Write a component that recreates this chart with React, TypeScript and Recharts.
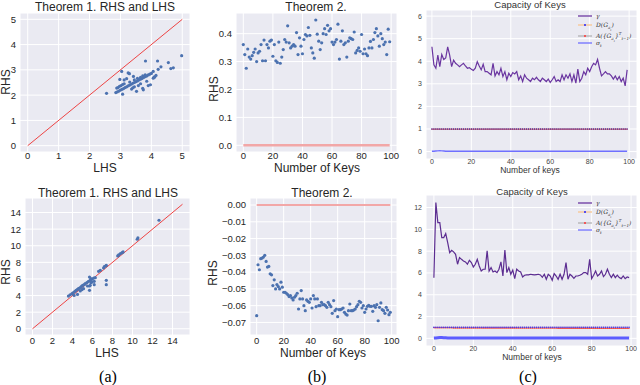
import React from 'react';
import { ComposedChart, Scatter, Line, XAxis, YAxis, CartesianGrid } from 'recharts';

const SANS = '"Liberation Sans", Arial, Helvetica, sans-serif';
const SERIF = '"Liberation Serif", "DejaVu Serif", serif';
const BG = '#EAEAF2';
const BLUE = '#4c72b0';

// ---------- Panel (a) top: Theorem 1, LHS vs RHS ----------
const a1Lhs = [2.55, 3.04, 3.20, 3.25, 2.98, 3.42, 3.81, 4.20, 4.55, 4.71, 4.63, 4.31, 4.98, 4.22, 4.06, 4.11, 4.06, 3.97, 3.90, 3.85, 3.72, 3.52, 3.36, 3.07, 2.88, 3.58, 3.65, 3.45, 3.12, 3.29, 4.09, 4.15, 3.74, 3.40,
  2.85, 2.90, 2.95, 3.00, 3.05, 3.10, 3.15, 3.20, 3.25, 3.30, 3.35, 3.40, 3.45, 3.50, 3.55, 3.60, 3.65, 3.70, 3.75, 3.80, 3.85, 3.90, 3.95, 4.00,
  2.92, 2.97, 3.02, 3.07, 3.12, 3.30, 3.45, 3.55, 3.65, 3.72, 3.80];
const a1Rhs = [2.07, 2.94, 2.65, 2.88, 2.62, 2.74, 3.35, 3.35, 3.29, 3.08, 3.05, 3.12, 3.56, 3.02, 2.94, 2.72, 2.67, 2.41, 2.38, 2.55, 2.27, 2.15, 2.24, 2.04, 2.28, 2.38, 2.45, 2.33, 2.60, 2.85, 2.71, 2.78, 2.21, 2.29,
  2.10, 2.13, 2.16, 2.20, 2.23, 2.26, 2.30, 2.33, 2.37, 2.40, 2.43, 2.47, 2.50, 2.53, 2.56, 2.60, 2.63, 2.66, 2.70, 2.73, 2.76, 2.80, 2.83, 2.86,
  2.30, 2.35, 2.38, 2.42, 2.45, 2.52, 2.60, 2.66, 2.70, 2.76, 2.80];
const a1Diag = [0, 5];

// ---------- Panel (a) bottom ----------
const a2Lhs = [3.59, 3.76, 3.93, 4.03, 4.16, 4.26, 4.36, 4.50, 4.60, 4.70, 4.83, 4.93, 5.03, 5.17, 5.27, 5.44, 5.60, 5.77, 5.94, 6.11, 6.28,
  4.16, 4.50, 4.77, 4.93, 5.10, 5.50, 5.70, 5.70, 5.84, 5.77, 6.17, 6.17, 5.94, 5.84, 5.70, 7.38, 7.38,
  6.61, 6.78, 7.11, 7.18, 7.32, 7.38, 8.52, 8.62, 8.79, 8.96, 9.06, 10.47, 10.54, 12.65];
const a2Rhs = [3.94, 4.10, 4.22, 4.30, 4.42, 4.51, 4.63, 4.75, 4.83, 4.91, 5.03, 5.15, 5.23, 5.31, 5.43, 5.55, 5.71, 5.83, 5.95, 6.11, 6.15,
  4.02, 4.14, 4.55, 4.71, 4.83, 5.15, 4.63, 5.15, 5.55, 5.23, 5.31, 5.71, 5.63, 6.03, 6.23, 5.83, 5.31,
  6.92, 7.04, 7.32, 7.48, 7.56, 7.64, 8.77, 8.89, 9.05, 9.17, 9.25, 10.78, 10.94, 13.07];
const a2Diag = [0, 15];

// ---------- Panel (b): Theorem 2 ----------
const keys = Array.from({ length: 100 }, (_, i) => i);
const b1Rhs = [0.361, 0.325, 0.276, 0.345, 0.316, 0.309, 0.321, 0.333, 0.345, 0.300,
  0.331, 0.337, 0.361, 0.303, 0.377, 0.303, 0.361, 0.349, 0.373, 0.377,
  0.319, 0.361, 0.303, 0.297, 0.370, 0.294, 0.316, 0.343, 0.379, 0.370,
  0.428, 0.367, 0.349, 0.355, 0.361, 0.355, 0.404, 0.325, 0.385, 0.355,
  0.328, 0.379, 0.397, 0.392, 0.422, 0.394, 0.349, 0.331, 0.312, 0.449,
  0.398, 0.373, 0.343, 0.367, 0.400, 0.418, 0.397, 0.430, 0.410, 0.418,
  0.370, 0.361, 0.370, 0.379, 0.434, 0.309, 0.373, 0.410, 0.361, 0.367,
  0.316, 0.373, 0.385, 0.382, 0.379, 0.406, 0.331, 0.340, 0.349, 0.337,
  0.397, 0.328, 0.345, 0.328, 0.321, 0.349, 0.372, 0.349, 0.379, 0.404,
  0.418, 0.392, 0.355, 0.400, 0.382, 0.361, 0.370, 0.325, 0.416, 0.371];
const b2Rhs = [-0.0660, -0.0356, -0.0386, -0.0320, -0.0316, -0.0310, -0.0300, -0.0336, -0.0370, -0.0366,
  -0.0410, -0.0416, -0.0480, -0.0446, -0.0500, -0.0474, -0.0486, -0.0500, -0.0460, -0.0490,
  -0.0520, -0.0520, -0.0526, -0.0534, -0.0546, -0.0540, -0.0554, -0.0566, -0.0550, -0.0540,
  -0.0526, -0.0620, -0.0560, -0.0510, -0.0560, -0.0600, -0.0630, -0.0566, -0.0574, -0.0580,
  -0.0560, -0.0614, -0.0540, -0.0560, -0.0606, -0.0560, -0.0600, -0.0600, -0.0580, -0.0594,
  -0.0594, -0.0600, -0.0610, -0.0580, -0.0594, -0.0606, -0.0646, -0.0570, -0.0630, -0.0620,
  -0.0666, -0.0624, -0.0624, -0.0620, -0.0614, -0.0640, -0.0650, -0.0656, -0.0630, -0.0590,
  -0.0630, -0.0630, -0.0626, -0.0620, -0.0606, -0.0594, -0.0574, -0.0580, -0.0614, -0.0600,
  -0.0640, -0.0620, -0.0604, -0.0598, -0.0604, -0.0604, -0.0634, -0.0600, -0.0610, -0.0594,
  -0.0690, -0.0610, -0.0584, -0.0624, -0.0630, -0.0646, -0.0610, -0.0626, -0.0654, -0.0640];
const bZeroX = [0, 99];
const bZeroY = [0, 0];

// ---------- Panel (c): Capacity of Keys ----------
const c1Gamma = [4.64, 3.84, 3.69, 4.27, 3.76, 4.30, 4.08, 4.15, 4.64, 4.27,
  3.76, 4.05, 3.91, 3.84, 3.76, 3.84, 3.91, 3.79, 3.69, 3.72,
  3.65, 3.59, 3.69, 3.98, 3.79, 3.62, 3.87, 3.54, 3.54, 3.47,
  3.40, 3.91, 3.35, 3.54, 3.40, 3.69, 3.32, 3.54, 3.18, 3.47,
  3.32, 3.50, 3.44, 3.54, 3.18, 3.35, 3.10, 3.40, 3.25, 3.18,
  3.10, 3.25, 3.18, 3.29, 3.18, 3.10, 3.25, 3.18, 3.10, 3.21,
  3.06, 3.18, 3.32, 3.10, 3.18, 3.10, 3.40, 3.18, 3.40, 3.25,
  3.44, 3.10, 3.40, 3.03, 3.65, 3.10, 3.25, 3.54, 3.40, 3.69,
  3.54, 3.76, 3.91, 3.84, 4.08, 3.69, 3.35, 3.44, 3.54, 3.44,
  3.44, 3.35, 3.21, 3.35, 3.18, 3.32, 3.10, 3.25, 2.91, 3.62];
const c1D = [1, 1, 1, 1, 1, 1, 1, 1, 1, 1, 1, 1, 1, 1, 1, 1, 1, 1, 1, 1,
  1, 1, 1, 1, 1, 1, 1, 1, 1, 1, 1, 1, 1, 1, 1, 1, 1, 1, 1, 1,
  1, 1, 1, 1, 1, 1, 1, 1, 1, 1, 1, 1, 1, 1, 1, 1, 1, 1, 1, 1,
  1, 1, 1, 1, 1, 1, 1, 1, 1, 1, 1, 1, 1, 1, 1, 1, 1, 1, 1, 1,
  1, 1, 1, 1, 1, 1, 1, 1, 1, 1, 1, 1, 1, 1, 1, 1, 1, 1, 1, 1];
const c1A = [0.99, 0.99, 0.99, 0.99, 0.99, 0.99, 0.99, 0.99, 0.99, 0.99, 0.99, 0.99, 0.99, 0.99, 0.99, 0.99, 0.99, 0.99, 0.99, 0.99,
  0.99, 0.99, 0.99, 0.99, 0.99, 0.99, 0.99, 0.99, 0.99, 0.99, 0.99, 0.99, 0.99, 0.99, 0.99, 0.99, 0.99, 0.99, 0.99, 0.99,
  0.99, 0.99, 0.99, 0.99, 0.99, 0.99, 0.99, 0.99, 0.99, 0.99, 0.99, 0.99, 0.99, 0.99, 0.99, 0.99, 0.99, 0.99, 0.99, 0.99,
  0.99, 0.99, 0.99, 0.99, 0.99, 0.99, 0.99, 0.99, 0.99, 0.99, 0.99, 0.99, 0.99, 0.99, 0.99, 0.99, 0.99, 0.99, 0.99, 0.99,
  0.99, 0.99, 0.99, 0.99, 0.99, 0.99, 0.99, 0.99, 0.99, 0.99, 0.99, 0.99, 0.99, 0.99, 0.99, 0.99, 0.99, 0.99, 0.99, 0.99];
const c1Sigma = [0.01, 0.01, 0.02, 0.03, 0.04, 0.03, 0.02, 0.01, 0.01, 0.01, 0.01, 0.01, 0.01, 0.01, 0.01, 0.01, 0.01, 0.01, 0.01, 0.01,
  0.01, 0.01, 0.01, 0.01, 0.01, 0.01, 0.01, 0.01, 0.01, 0.01, 0.01, 0.01, 0.01, 0.01, 0.01, 0.01, 0.01, 0.01, 0.01, 0.01,
  0.01, 0.01, 0.01, 0.01, 0.01, 0.01, 0.01, 0.01, 0.01, 0.01, 0.01, 0.01, 0.01, 0.01, 0.01, 0.01, 0.01, 0.01, 0.01, 0.01,
  0.01, 0.01, 0.01, 0.01, 0.01, 0.01, 0.01, 0.01, 0.01, 0.01, 0.01, 0.01, 0.01, 0.01, 0.01, 0.01, 0.01, 0.01, 0.01, 0.01,
  0.01, 0.01, 0.01, 0.01, 0.01, 0.01, 0.01, 0.01, 0.01, 0.01, 0.01, 0.01, 0.01, 0.01, 0.01, 0.01, 0.01, 0.01, 0.01, 0.01];

const c2Gamma = [5.57, 12.46, 10.62, 10.62, 9.24, 9.24, 9.61, 8.78, 7.87, 8.08,
  7.93, 7.71, 6.80, 7.41, 7.25, 7.10, 7.01, 6.80, 7.16, 6.95,
  6.55, 6.80, 7.25, 6.64, 6.18, 6.34, 6.34, 8.02, 6.18, 6.49,
  6.09, 6.18, 6.03, 6.34, 7.01, 5.72, 8.11, 6.03, 6.49, 5.88,
  6.27, 5.48, 6.34, 6.18, 6.09, 5.63, 5.79, 5.82, 5.82, 5.88,
  5.85, 5.82, 5.85, 5.88, 5.82, 5.60, 5.88, 5.42, 5.88, 5.72,
  5.33, 5.94, 5.72, 5.42, 5.88, 5.42, 5.88, 6.95, 5.42, 5.88,
  5.72, 5.51, 5.72, 5.72, 5.79, 5.88, 6.03, 6.03, 5.88, 7.25,
  5.48, 5.79, 6.18, 5.72, 5.88, 6.18, 5.66, 5.88, 6.34, 5.88,
  5.57, 5.88, 5.57, 5.79, 5.57, 5.48, 5.72, 5.48, 5.63, 5.57];
const c2D = [1.02, 1.02, 1.02, 1.02, 1.02, 1.02, 1.02, 1.02, 1.02, 1.02, 1.02, 1.02, 1.02, 1.02, 1.02, 1.02, 1.02, 1.02, 1.02, 1.02,
  1.02, 1.02, 1.02, 1.02, 1.02, 1.02, 1.02, 1.02, 1.02, 1.02, 1.02, 1.02, 1.02, 1.02, 1.02, 1.02, 1.02, 1.02, 1.02, 1.02,
  1.02, 1.02, 1.02, 1.02, 1.02, 1.02, 1.02, 1.02, 1.02, 1.02, 1.02, 1.02, 1.02, 1.02, 1.02, 1.02, 1.02, 1.02, 1.02, 1.02,
  1.02, 1.02, 1.02, 1.02, 1.02, 1.02, 1.02, 1.02, 1.02, 1.02, 1.02, 1.02, 1.02, 1.02, 1.02, 1.02, 1.02, 1.02, 1.02, 1.02,
  1.02, 1.02, 1.02, 1.02, 1.02, 1.02, 1.02, 1.02, 1.02, 1.02, 1.02, 1.02, 1.02, 1.02, 1.02, 1.02, 1.02, 1.02, 1.02, 1.02];
const c2A = [0.98, 0.98, 0.98, 0.98, 0.98, 0.98, 0.98, 0.98, 0.98, 0.98, 0.97, 0.97, 0.97, 0.97, 0.97, 0.97, 0.97, 0.97, 0.97, 0.97,
  0.97, 0.97, 0.97, 0.97, 0.97, 0.96, 0.96, 0.96, 0.96, 0.96, 0.96, 0.96, 0.96, 0.96, 0.96, 0.96, 0.96, 0.96, 0.96, 0.96,
  0.96, 0.96, 0.96, 0.95, 0.95, 0.95, 0.95, 0.95, 0.95, 0.95, 0.95, 0.95, 0.95, 0.95, 0.95, 0.95, 0.95, 0.95, 0.95, 0.95,
  0.95, 0.95, 0.95, 0.94, 0.94, 0.94, 0.94, 0.94, 0.94, 0.94, 0.94, 0.94, 0.94, 0.94, 0.94, 0.94, 0.94, 0.94, 0.94, 0.94,
  0.94, 0.94, 0.94, 0.93, 0.93, 0.93, 0.93, 0.93, 0.93, 0.93, 0.93, 0.93, 0.93, 0.93, 0.93, 0.93, 0.93, 0.93, 0.93, 0.93];
const c2Sigma = [0.03, 0.04, 0.06, 0.07, 0.07, 0.06, 0.05, 0.04, 0.04, 0.04, 0.04, 0.04, 0.04, 0.04, 0.04, 0.04, 0.04, 0.04, 0.04, 0.04,
  0.04, 0.04, 0.04, 0.04, 0.04, 0.04, 0.04, 0.04, 0.04, 0.04, 0.04, 0.04, 0.04, 0.04, 0.04, 0.04, 0.04, 0.04, 0.04, 0.04,
  0.04, 0.04, 0.04, 0.04, 0.04, 0.04, 0.04, 0.04, 0.04, 0.04, 0.04, 0.04, 0.04, 0.04, 0.04, 0.04, 0.04, 0.04, 0.04, 0.04,
  0.04, 0.04, 0.04, 0.04, 0.04, 0.04, 0.04, 0.04, 0.04, 0.04, 0.04, 0.04, 0.04, 0.04, 0.04, 0.04, 0.04, 0.04, 0.04, 0.04,
  0.04, 0.04, 0.04, 0.04, 0.04, 0.04, 0.04, 0.04, 0.04, 0.04, 0.04, 0.04, 0.04, 0.04, 0.04, 0.04, 0.04, 0.04, 0.04, 0.04];

// ---------- ticks ----------
const a1Ticks = [0, 1, 2, 3, 4, 5];
const a2Ticks = [0, 2, 4, 6, 8, 10, 12, 14];
const kTicks = [0, 20, 40, 60, 80, 100];
const b1YTicks = [0, 0.1, 0.2, 0.3, 0.4];
const b2YTicks = [0, -0.01, -0.02, -0.03, -0.04, -0.05, -0.06, -0.07];
const c1YTicks = [0, 1, 2, 3, 4, 5, 6];
const c2YTicks = [0, 2, 4, 6, 8, 10, 12];

const pairs = (xs: number[], ys: number[]) => xs.map((x, i) => ({ x, y: ys[i] }));
const series = (ys: number[]) => keys.map((k, i) => ({ x: k, y: ys[i] }));

const YW = 40, XH = 22, MT = 4, MR = 4;

const dotShape = (props: any) => <circle cx={props.cx} cy={props.cy} r={1.6} fill={BLUE} />;

function Panel(p: any) {
  const w = p.pw + YW + MR;
  const h = p.ph + MT + XH;
  return (
    <div style={{ position: 'absolute', left: p.px - YW, top: p.py - MT, width: w, height: h }}>
      <ComposedChart width={w} height={h} margin={{ top: MT, right: MR, bottom: 0, left: 0 }}>
        <CartesianGrid fill={BG} fillOpacity={1} stroke="#ffffff" strokeWidth={1} />
        <XAxis type="number" dataKey="x" domain={p.xDomain} ticks={p.xTicks} interval={0} allowDataOverflow
          axisLine={false} tickLine={false} tickSize={0} tickMargin={p.xMargin ?? 3} height={XH}
          tick={{ fontSize: p.fs, fill: p.tc, fontFamily: SANS }} />
        <YAxis type="number" dataKey="y" domain={p.yDomain} ticks={p.yTicks} interval={0} allowDataOverflow
          axisLine={false} tickLine={false} tickSize={0} tickMargin={p.yMargin ?? 4} width={YW}
          tickFormatter={p.yFmt} tick={{ fontSize: p.fs, fill: p.tc, fontFamily: SANS }} />
        {p.children}
      </ComposedChart>
    </div>
  );
}

function Txt({ x, y, size, children, rot, color = '#262626', family = SANS }: any) {
  return (
    <div style={{
      position: 'absolute', left: x, top: y, transform: `translate(-50%,-50%)${rot ? ' rotate(-90deg)' : ''}`,
      fontSize: size, whiteSpace: 'nowrap', color, fontFamily: family, lineHeight: 1,
    }}>{children}</div>
  );
}

function Handle({ kind }: { kind: string }) {
  return (
    <svg width={14} height={6} style={{ display: 'inline-block', verticalAlign: 'middle', marginRight: 4 }}>
      {kind === 'g' && <line x1={0} y1={3} x2={14} y2={3} stroke="#6a35a0" strokeWidth={1.3} />}
      {kind === 'd' && <><line x1={0} y1={3} x2={14} y2={3} stroke="#f7c490" strokeWidth={1.3} /><circle cx={7} cy={3} r={1} fill="#2222ff" /></>}
      {kind === 'a' && <><line x1={0} y1={3} x2={14} y2={3} stroke="#a0a0a0" strokeWidth={1} /><circle cx={7} cy={3} r={1} fill="#ff3333" /></>}
      {kind === 's' && <line x1={0} y1={3} x2={14} y2={3} stroke="#6f6fff" strokeWidth={1.3} />}
    </svg>
  );
}

function Legend({ x, y }: { x: number; y: number }) {
  const row = { height: 9, lineHeight: '9px', fontSize: 6, fontStyle: 'italic', color: '#333', fontFamily: '"DejaVu Serif", serif', whiteSpace: 'nowrap' as const };
  return (
    <div style={{ position: 'absolute', left: x, top: y }}>
      <div style={row}><Handle kind="g" />γ</div>
      <div style={row}><Handle kind="d" />D(G<sub style={{ fontSize: 4 }}>a<sub style={{ fontSize: 3 }}>t</sub></sub>)</div>
      <div style={row}><Handle kind="a" />A({'{'}G<sub style={{ fontSize: 4 }}>a<sub style={{ fontSize: 3 }}>t</sub></sub>{'}'}<sup style={{ fontSize: 4 }}>T</sup><sub style={{ fontSize: 4 }}>t−1</sub>)</div>
      <div style={row}><Handle kind="s" />σ<sub style={{ fontSize: 4 }}>t</sub></div>
    </div>
  );
}

const f1 = (v: number) => v.toFixed(1);
const f2 = (v: number) => v.toFixed(2).replace('-', '\u2212');

export default function App() {
  const lineCommon = { isAnimationActive: false, type: 'linear' as const, dot: false, activeDot: false, legendType: 'none' as const };
  return (
    <div style={{ position: 'absolute', left: 0, top: 0, width: 640, height: 385, background: '#fff', overflow: 'hidden' }}>
      {/* (a) top */}
      <Panel px={20} py={13} pw={170} ph={139} xDomain={[-0.25, 5.25]} yDomain={[-0.25, 5.25]} xTicks={a1Ticks} yTicks={a1Ticks} fs={9.5} tc="#262626" xMargin={0}>
        <Line data={pairs(a1Diag, a1Diag)} dataKey="y" stroke="#ee4444" strokeWidth={1} {...lineCommon} />
        <Scatter data={pairs(a1Lhs, a1Rhs)} dataKey="y" fill={BLUE} shape={dotShape} isAnimationActive={false} />
      </Panel>
      <Txt x={105} y={7} size={12}>Theorem 1. RHS and LHS</Txt>
      <Txt x={105} y={168} size={12}>LHS</Txt>
      <Txt x={6} y={82} size={12} rot>RHS</Txt>

      {/* (b) top */}
      <Panel px={236} py={13} pw={161} ph={139} xDomain={[-4.95, 103.95]} yDomain={[-0.024, 0.474]} xTicks={kTicks} yTicks={b1YTicks} yFmt={f1} fs={9.5} tc="#262626" xMargin={0}>
        <Line data={pairs(bZeroX, bZeroY)} dataKey="y" stroke="#f2a7a7" strokeWidth={2.5} {...lineCommon} />
        <Scatter data={series(b1Rhs)} dataKey="y" fill={BLUE} shape={dotShape} isAnimationActive={false} />
      </Panel>
      <Txt x={316} y={7} size={12}>Theorem 2.</Txt>
      <Txt x={317} y={168} size={12}>Number of Keys</Txt>
      <Txt x={214} y={89} size={12} rot>RHS</Txt>

      {/* (c) top */}
      <Panel px={426} py={10} pw={211} ph={149} xDomain={[-3, 104]} yDomain={[-0.33, 6.27]} xTicks={kTicks} yTicks={c1YTicks} fs={7} tc="#444" xMargin={0} yMargin={4}>
        <Line data={series(c1Sigma)} dataKey="y" stroke="#6f6fff" strokeWidth={1.5} {...lineCommon} />
        <Line data={series(c1A)} dataKey="y" stroke="#b05060" strokeWidth={1} {...lineCommon} dot={{ r: 0.6, fill: '#ff3333', strokeWidth: 0 }} />
        <Line data={series(c1D)} dataKey="y" stroke="#f7c490" strokeWidth={0.8} {...lineCommon} dot={{ r: 0.7, fill: '#3030c0', strokeWidth: 0 }} />
        <Line data={series(c1Gamma)} dataKey="y" stroke="#6a35a0" strokeWidth={1.2} {...lineCommon} />
      </Panel>
      <Txt x={530} y={5} size={9.5} color="#333">Capacity of Keys</Txt>
      <Txt x={530} y={170} size={8.5} color="#333">Number of keys</Txt>
      <Legend x={578} y={11} />

      {/* (a) bottom */}
      <Panel px={25} py={198} pw={165} ph={137} xDomain={[-0.75, 15.75]} yDomain={[-0.75, 15.75]} xTicks={a2Ticks} yTicks={a2Ticks} fs={9.5} tc="#262626" xMargin={2}>
        <Line data={pairs(a2Diag, a2Diag)} dataKey="y" stroke="#ee4444" strokeWidth={1} {...lineCommon} />
        <Scatter data={pairs(a2Lhs, a2Rhs)} dataKey="y" fill={BLUE} shape={dotShape} isAnimationActive={false} />
      </Panel>
      <Txt x={108} y={193} size={12}>Theorem 1. RHS and LHS</Txt>
      <Txt x={107} y={353} size={12}>LHS</Txt>
      <Txt x={6} y={272} size={12} rot>RHS</Txt>
      <Txt x={108} y={377} size={16} family={SERIF} color="#000">(a)</Txt>

      {/* (b) bottom */}
      <Panel px={250} py={198} pw={147} ph={137} xDomain={[-4.95, 103.95]} yDomain={[-0.0775, 0.0042]} xTicks={kTicks} yTicks={b2YTicks} yFmt={f2} fs={9.5} tc="#262626" xMargin={2}>
        <Line data={pairs(bZeroX, bZeroY)} dataKey="y" stroke="#f2a7a7" strokeWidth={2} {...lineCommon} />
        <Scatter data={series(b2Rhs)} dataKey="y" fill={BLUE} shape={dotShape} isAnimationActive={false} />
      </Panel>
      <Txt x={322} y={193} size={12}>Theorem 2.</Txt>
      <Txt x={323} y={353} size={12}>Number of Keys</Txt>
      <Txt x={213} y={273} size={12} rot>RHS</Txt>
      <Txt x={317} y={377} size={16} family={SERIF} color="#000">(b)</Txt>

      {/* (c) bottom */}
      <Panel px={426} py={195} pw={211} ph={151} xDomain={[-4, 103]} yDomain={[-0.7, 13.15]} xTicks={kTicks} yTicks={c2YTicks} fs={7} tc="#444" xMargin={0} yMargin={4}>
        <Line data={series(c2Sigma)} dataKey="y" stroke="#5c5cff" strokeWidth={3} {...lineCommon} />
        <Line data={series(c2A)} dataKey="y" stroke="#e04040" strokeWidth={1.2} {...lineCommon} dot={{ r: 0.6, fill: '#ff3333', strokeWidth: 0 }} />
        <Line data={series(c2D)} dataKey="y" stroke="#f7c490" strokeWidth={0.8} {...lineCommon} dot={{ r: 0.8, fill: '#3333ff', strokeWidth: 0 }} />
        <Line data={series(c2Gamma)} dataKey="y" stroke="#5c2d91" strokeWidth={1.2} {...lineCommon} />
      </Panel>
      <Txt x={532} y={192} size={9.5} color="#333">Capacity of Keys</Txt>
      <Txt x={532} y={357} size={8.5} color="#333">Number of keys</Txt>
      <Legend x={578} y={198} />
      <Txt x={528} y={377} size={16} family={SERIF} color="#000">(c)</Txt>
    </div>
  );
}
